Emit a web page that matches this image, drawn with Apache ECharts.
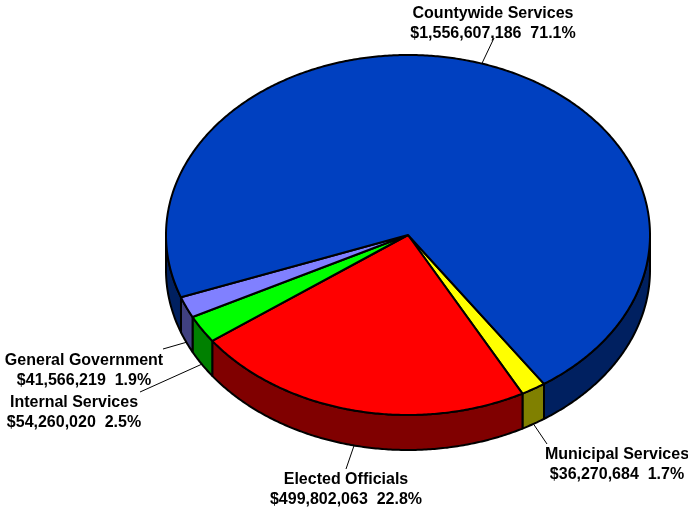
<!DOCTYPE html>
<html>
<head>
<meta charset="utf-8">
<style>html,body{margin:0;padding:0;background:#fff}#chart{width:688px;height:508px}</style>
<script src="https://cdn.jsdelivr.net/npm/echarts@6/dist/echarts.min.js"></script>
</head>
<body>
<div id="chart"></div>
<script>
// Budget by department, clockwise from the lower right of the disc
const names = ['Municipal Services', 'Elected Officials', 'Internal Services', 'General Government', 'Countywide Services'];
const amounts = [36270684, 499802063, 54260020, 41566219, 1556607186];
const topColors = ['#ffff00', '#ff0000', '#00ff00', '#8080ff', '#0040c0'];
const sideColors = ['#808000', '#800000', '#008000', '#404080', '#002060'];

// Disc geometry
const cx = 408, cy = 235, rx = 242, ry = 180, depth = 35;
const startDeg = 55.8;

// Label anchor (centre of the text block) and the far end of each leader line
const labelCentres = [[617, 465], [346, 490], [74, 413], [84, 371], [493, 24]];
const leaderEnds = [[547, 444], [346, 469], [140, 392], [163, 349], [494, 38]];
const labelFont = 'bold 16px "Liberation Sans", Arial, sans-serif';

const total = amounts.reduce((a, b) => a + b, 0);
const spans = [];
amounts.reduce((acc, v) => {
  const sweep = v / total * 360;
  spans.push([acc, acc + sweep]);
  return acc + sweep;
}, startDeg);

const rim = (deg, drop) => {
  const t = deg * Math.PI / 180;
  return [cx + rx * Math.cos(t), cy + ry * Math.sin(t) + (drop || 0)];
};
const arc = (a, b, drop) => {
  const pts = [];
  const n = Math.max(2, Math.ceil(Math.abs(b - a) * 2));
  for (let i = 0; i <= n; i++) pts.push(rim(a + (b - a) * i / n, drop));
  return pts;
};
const outline = { stroke: '#000', lineWidth: 2, lineJoin: 'round' };

// Only the part of each slice facing the viewer shows a wall
const visibleWalls = (a, b) => {
  const out = [];
  [[0, 180], [360, 540]].forEach(([lo, hi]) => {
    const s = Math.max(a, lo), e = Math.min(b, hi);
    if (e > s) out.push([s, e]);
  });
  return out;
};

const renderWall = (params) => {
  const i = params.dataIndex;
  const children = visibleWalls(spans[i][0], spans[i][1]).map(([s, e]) => ({
    type: 'polygon',
    shape: { points: arc(s, e, 0).concat(arc(e, s, depth)) },
    style: Object.assign({ fill: sideColors[i] }, outline)
  }));
  return { type: 'group', children };
};

const renderTop = (params) => {
  const i = params.dataIndex;
  return {
    type: 'polygon',
    shape: { points: [[cx, cy]].concat(arc(spans[i][0], spans[i][1], 0)) },
    style: Object.assign({ fill: topColors[i] }, outline)
  };
};

const usd = (v) => '$' + v.toLocaleString('en-US');

const renderLabel = (params) => {
  const i = params.dataIndex;
  const mid = (spans[i][0] + spans[i][1]) / 2;
  const facing = Math.sin(mid * Math.PI / 180) > 0;
  const from = rim(mid, facing ? depth : 0);
  const pct = (amounts[i] / total * 100).toFixed(1) + '%';
  return {
    type: 'group',
    children: [
      {
        type: 'line',
        shape: { x1: from[0], y1: from[1], x2: leaderEnds[i][0], y2: leaderEnds[i][1] },
        style: { stroke: '#000', lineWidth: 1 }
      },
      {
        type: 'text',
        x: labelCentres[i][0],
        y: labelCentres[i][1],
        style: {
          text: names[i] + '\n' + usd(amounts[i]) + '  ' + pct,
          font: labelFont,
          fill: '#000',
          align: 'center',
          verticalAlign: 'middle',
          lineHeight: 20
        }
      }
    ]
  };
};

const chart = echarts.init(document.getElementById('chart'), null, { renderer: 'canvas' });
chart.setOption({
  animation: false,
  backgroundColor: '#fff',
  series: [
    { type: 'custom', coordinateSystem: 'none', z: 1, data: amounts, renderItem: renderWall, silent: true },
    { type: 'custom', coordinateSystem: 'none', z: 2, data: amounts, renderItem: renderTop, silent: true },
    { type: 'custom', coordinateSystem: 'none', z: 3, data: amounts, renderItem: renderLabel, silent: true }
  ]
});
</script>
</body>
</html>
